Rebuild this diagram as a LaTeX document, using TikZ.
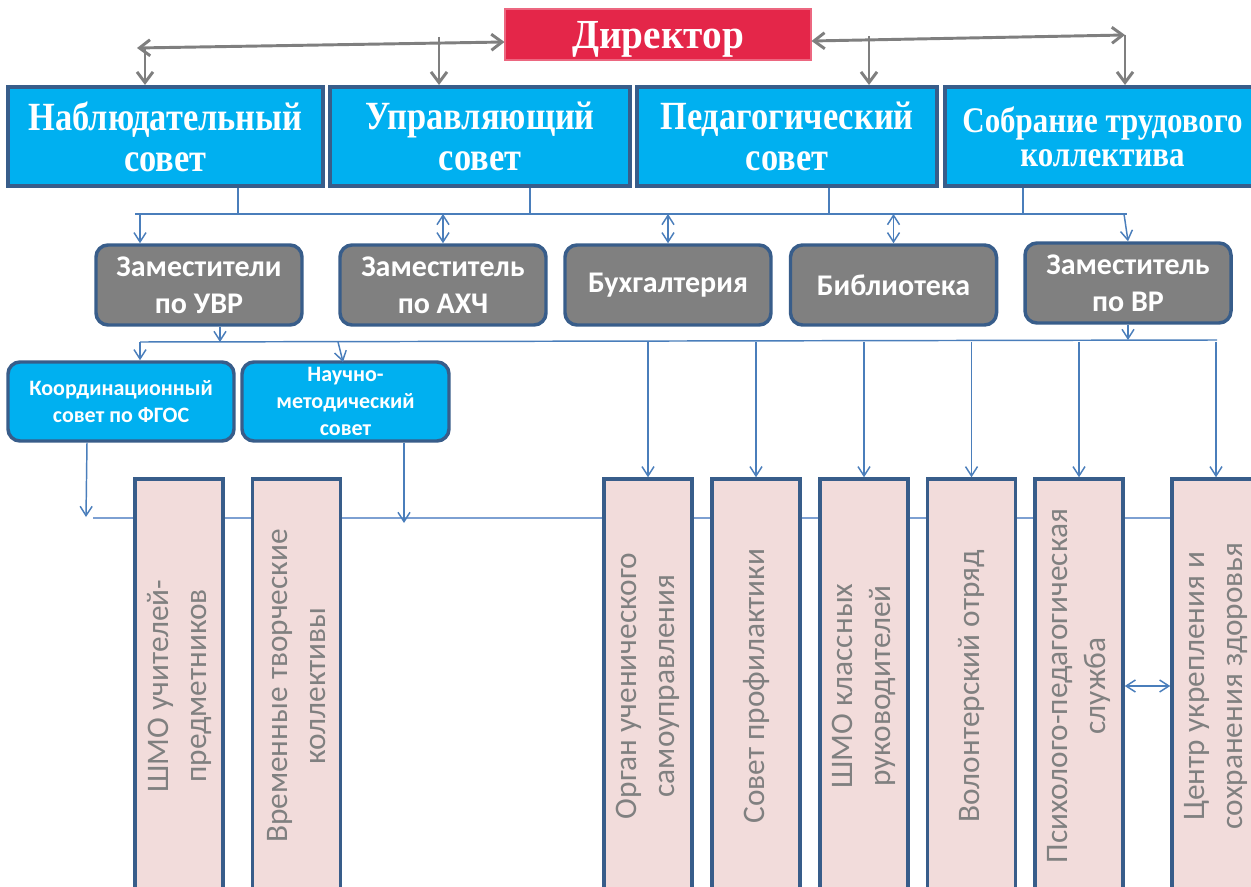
\documentclass[tikz,border=0pt]{standalone}
\usepackage{fontspec}
\usetikzlibrary{arrows.meta,calc}
\newfontfamily\headfont{Liberation Serif}[FakeStretch=0.86]
\newfontfamily\dirfont{Liberation Serif}[FakeStretch=0.95]
\newfontfamily\carlito{Carlito}
\definecolor{dirred}{RGB}{228,38,73}
\definecolor{cyanbox}{RGB}{0,176,240}
\definecolor{edgeblue}{RGB}{56,93,138}
\definecolor{graybox}{RGB}{128,128,128}
\definecolor{pinkbox}{RGB}{242,220,219}
\definecolor{linkblue}{RGB}{74,126,187}
\definecolor{buslight}{RGB}{125,160,210}
\definecolor{arrowgray}{RGB}{127,127,127}
\definecolor{txtgray}{RGB}{128,128,128}
\tikzset{
  dirbox/.style={fill=dirred, draw=dirred!70!white, line width=0.8pt, text=white,
    minimum width=229.5pt, minimum height=38.25pt, inner sep=0pt, text depth=0pt,
    font=\dirfont\bfseries\fontsize{31}{36}\selectfont},
  topbox/.style={fill=cyanbox, draw=edgeblue, line width=3pt, text=white,
    minimum width=#1, minimum height=74.25pt, inner sep=0pt, align=center,
    font=\headfont\bfseries\fontsize{30}{30.75}\selectfont},
  deputy/.style={fill=graybox, draw=edgeblue, line width=2.6pt, rounded corners=9pt,
    text=white, minimum width=154.5pt, minimum height=60pt, inner sep=0pt, align=center,
    font=\carlito\bfseries\fontsize{22.5}{27.75}\selectfont},
  council/.style={fill=cyanbox, draw=edgeblue, line width=2.6pt, rounded corners=9pt,
    text=white, minimum width=#1, minimum height=59.25pt, inner sep=0pt, align=center,
    font=\carlito\bfseries\fontsize{16.5}{20.5}\selectfont},
  unit/.style={fill=pinkbox, draw=edgeblue, line width=2.6pt, rotate=90,
    minimum width=310.5pt, minimum height=66pt, inner sep=0pt, align=center,
    text=txtgray, font=\carlito\fontsize{23.5}{28.5}\selectfont},
  garrow/.style={draw=arrowgray, line width=2.2pt,
    arrows={-Straight Barb[length=8pt,width=12pt]}},
  gline/.style={draw=arrowgray, line width=2.2pt},
  barrow/.style={draw=linkblue, line width=1.1pt,
    arrows={-Straight Barb[length=7pt,width=9pt]}},
  bline/.style={draw=linkblue, line width=1.1pt},
  lbus/.style={draw=buslight, line width=1.3pt},
}
\begin{document}
\begin{tikzpicture}[x=0.75pt,y=-0.75pt]
\useasboundingbox (0,0) rectangle (1251,887);
\clip (0,0) rectangle (1251,887);
\fill[white] (0,0) rectangle (1251,887);

% director and top councils
\node[dirbox] (dir) at (658,34.5) {Директор};
\node[topbox=236.25pt] (n1) at (165.5,136.5) {Наблюдательный\\совет};
\node[topbox=225pt] (n2) at (480,136.5) {Управляющий\\совет};
\node[topbox=225pt] (n3) at (787,136.5) {Педагогический\\совет};
\node[topbox=236.25pt, font=\headfont\bfseries\fontsize{27}{25.5}\selectfont] (n4) at (1102.5,136.5) {Собрание трудового\\коллектива};

% gray arrows from director
\coordinate (gl) at (137,48);
\coordinate (gr) at (1125,35);
\draw[gline, arrows={Straight Barb[length=8pt,width=12pt]-Straight Barb[length=8pt,width=12pt]}] (gl) -- ($(dir.west)+(0,7.5)$);
\draw[gline, arrows={Straight Barb[length=8pt,width=12pt]-Straight Barb[length=8pt,width=12pt]}] ($(dir.east)+(0,6.5)$) -- (gr);
\coordinate (g1) at (145,48);
\coordinate (g2) at (439,37);
\coordinate (g3) at (869,36);
\draw[garrow] (g1) -- (g1 |- n1.north);
\draw[garrow] (g2) -- (g2 |- n2.north);
\draw[garrow] (g3) -- (g3 |- n3.north);
\draw[garrow] (gr) -- (gr |- n4.north);

% first blue bus
\coordinate (b1l) at (135,214);
\coordinate (b1r) at (1127,214);
\draw[bline] (b1l) -- (b1r);
\coordinate (t1) at (238,214);
\coordinate (t2) at (530,214);
\coordinate (t3) at (829,214);
\coordinate (t4) at (1023,214);
\draw[bline] (n1.south -| t1) -- (t1);
\draw[bline] (n2.south -| t2) -- (t2);
\draw[bline] (n3.south -| t3) -- (t3);
\draw[bline] (n4.south -| t4) -- (t4);

% deputies
\node[deputy] (d1) at (199,285) {Заместители\\по УВР};
\node[deputy] (d2) at (443,285) {Заместитель\\по АХЧ};
\node[deputy] (d3) at (668,285) {Бухгалтерия};
\node[deputy] (d4) at (893.5,285) {Библиотека};
\node[deputy] (d5) at (1128,283) {Заместитель\\по ВР};

\coordinate (a1) at (140,214);
\draw[barrow] (a1) -- (a1 |- d1.north);
\draw[barrow, arrows={Straight Barb[length=7pt,width=9pt]-Straight Barb[length=7pt,width=9pt]}] (d2.north |- b1l) -- (d2.north);
\draw[barrow, arrows={Straight Barb[length=7pt,width=9pt]-Straight Barb[length=7pt,width=9pt]}] (d3.north |- b1l) -- (d3.north);
\draw[barrow, arrows={Straight Barb[length=7pt,width=9pt]-Straight Barb[length=7pt,width=9pt]}] (d4.north |- b1l) -- (d4.north);
\draw[barrow] (1124,214) -- (d5.north);

% second blue bus
\coordinate (b2l) at (140,342);
\coordinate (b2r) at (1217,340);
\draw[bline] (b2l) -- (b2r);
\coordinate (u1) at (220,342);
\draw[barrow] (d1.south -| u1) -- (u1);
\draw[barrow] (d5.south) -- (d5.south |- b2r);

% councils
\node[council=169.5pt] (c1) at (121,401.5) {Координационный\\совет по ФГОС};
\node[council=155.25pt] (c2) at (345.5,401.5) {Научно-\\методический\\совет};
\draw[barrow] (b2l) -- (b2l |- c1.north);
\draw[barrow] (338,342) -- (343,362);

% lower light bus
\coordinate (b3l) at (93,518);
\coordinate (b3r) at (1251,518);
\draw[lbus] (b3l) -- (b3r);
\coordinate (v1) at (86,517);
\coordinate (v2) at (404,523);
\draw[barrow] (c1.south -| 87,0) -- (v1);
\draw[barrow] (c2.south -| v2) -- (v2);

% units
\node[unit] (p1) at (179,686) {ШМО учителей-\\предметников};
\node[unit] (p2) at (296.5,686) {Временные творческие\\коллективы};
\node[unit] (p3) at (648,686) {Орган ученического\\самоуправления};
\node[unit] (p4) at (756,686) {Совет профилактики};
\node[unit] (p5) at (864,686) {ШМО классных\\руководителей};
\node[unit] (p6) at (971.5,686) {Волонтерский отряд};
\node[unit] (p7) at (1079,686) {Психолого-педагогическая\\служба};
\node[unit] (p8) at (1216,686) {Центр укрепления и\\сохранения здоровья};

\foreach \p in {p3,p4,p5,p6,p7,p8}{
  \draw[barrow] (\p.east |- b2l) -- (\p.east);
}
\draw[barrow, arrows={Straight Barb[length=7pt,width=9pt]-Straight Barb[length=7pt,width=9pt]}] (p7.south) -- (p8.north);
\end{tikzpicture}
\end{document}
